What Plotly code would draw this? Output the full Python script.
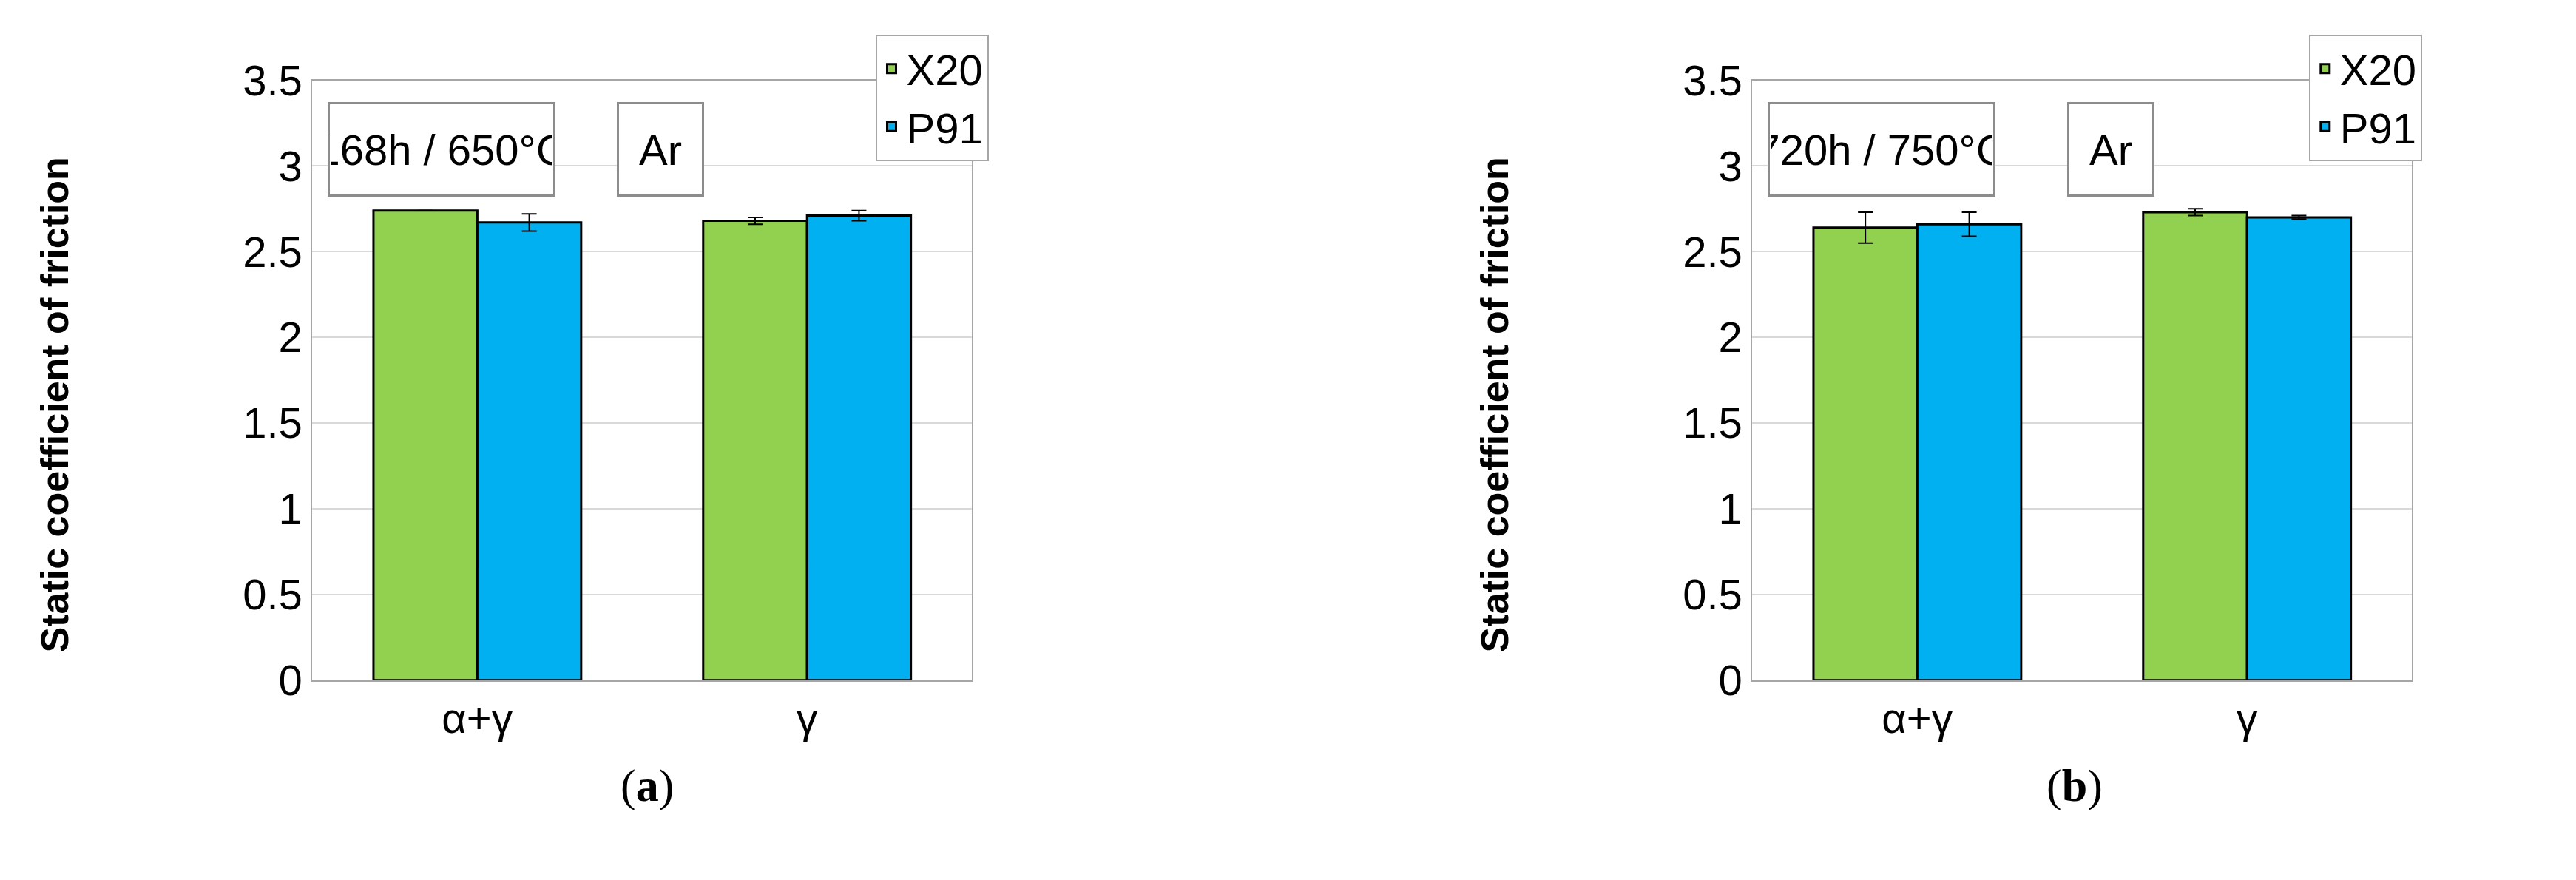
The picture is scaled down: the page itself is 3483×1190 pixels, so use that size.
import plotly.graph_objects as go

categories = ["α+γ", "γ"]

# panel (a): 168h / 650°C
a_x20 = [2.74, 2.68]
a_x20_err = [0.0, 0.02]
a_p91 = [2.67, 2.71]
a_p91_err = [0.05, 0.03]

# panel (b): 720h / 750°C
b_x20 = [2.64, 2.73]
b_x20_err = [0.09, 0.02]
b_p91 = [2.66, 2.70]
b_p91_err = [0.07, 0.01]

y_ticks = [0, 0.5, 1, 1.5, 2, 2.5, 3, 3.5]
tick_text = ["0", "0.5", "1", "1.5", "2", "2.5", "3", "3.5"]

GREEN = "#92d050"
BLUE = "#00b0f0"
NARROW = "Liberation Sans Narrow, Liberation Sans, Arial"

fig = go.Figure()


def add_panel(x20, x20_err, p91, p91_err, xaxis, yaxis, legend):
    for name, vals, err, color in [
        ("X20", x20, x20_err, GREEN),
        ("P91", p91, p91_err, BLUE),
    ]:
        fig.add_trace(
            go.Bar(
                x=categories,
                y=vals,
                name=name,
                marker=dict(color=color, line=dict(color="black", width=3)),
                error_y=dict(type="data", array=err, color="black", thickness=2, width=10),
                xaxis=xaxis,
                yaxis=yaxis,
                legend=legend,
            )
        )


add_panel(a_x20, a_x20_err, a_p91, a_p91_err, "x", "y", "legend")
add_panel(b_x20, b_x20_err, b_p91, b_p91_err, "x2", "y2", "legend2")

axis_style = dict(
    showline=True,
    linecolor="#a6a6a6",
    linewidth=2,
    mirror=True,
    tickfont=dict(family=NARROW, size=58, color="black"),
)
yaxis_style = dict(
    axis_style,
    range=[0, 3.5],
    tickvals=y_ticks,
    ticktext=tick_text,
    showgrid=True,
    gridcolor="#d9d9d9",
    gridwidth=2,
    ticks="",
    ticklen=0,
)

legend_style = dict(
    font=dict(family=NARROW, size=58, color="black"),
    bordercolor="#a6a6a6",
    borderwidth=2,
    bgcolor="white",
    xanchor="left",
    yanchor="top",
    tracegroupgap=0,
    itemwidth=30,
)

fig.update_layout(
    width=3483,
    height=1190,
    margin=dict(l=0, r=0, t=0, b=0),
    paper_bgcolor="white",
    plot_bgcolor="white",
    barmode="group",
    bargap=0.37,
    bargroupgap=0,
    xaxis=dict(axis_style, domain=[0.119, 0.375], anchor="y"),
    yaxis=dict(yaxis_style, domain=[0.219, 0.94], anchor="x"),
    xaxis2=dict(axis_style, domain=[0.678, 0.934], anchor="y2"),
    yaxis2=dict(yaxis_style, domain=[0.219, 0.94], anchor="x2"),
    legend=dict(legend_style, x=0.3375, y=0.995),
    legend2=dict(legend_style, x=0.894, y=0.995),
)

box = dict(
    xref="paper",
    yref="paper",
    showarrow=False,
    bordercolor="#8c8c8c",
    borderwidth=3,
    bgcolor="white",
    font=dict(family=NARROW, size=58, color="black"),
    height=120,
    xanchor="center",
    yanchor="middle",
)
for x, txt, w in [
    (0.169, "168h / 650°C", 300),
    (0.254, "Ar", 110),
    (0.728, "720h / 750°C", 300),
    (0.817, "Ar", 110),
]:
    fig.add_annotation(box, x=x, y=0.857, text=txt, width=w)

for x in [0.019, 0.578]:
    fig.add_annotation(
        x=x, y=0.55, xref="paper", yref="paper", showarrow=False, textangle=-90,
        xanchor="center", yanchor="middle",
        text="<b>Static coefficient of friction</b>",
        font=dict(family="Liberation Sans, Arial", size=52, color="black"),
    )

for x, txt in [(0.249, "(<b>a</b>)"), (0.803, "(<b>b</b>)")]:
    fig.add_annotation(
        x=x, y=0.06, xref="paper", yref="paper", showarrow=False, text=txt,
        xanchor="center",
        font=dict(family="Liberation Serif, Times New Roman", size=62, color="black"),
    )

fig.write_html("out.html")
